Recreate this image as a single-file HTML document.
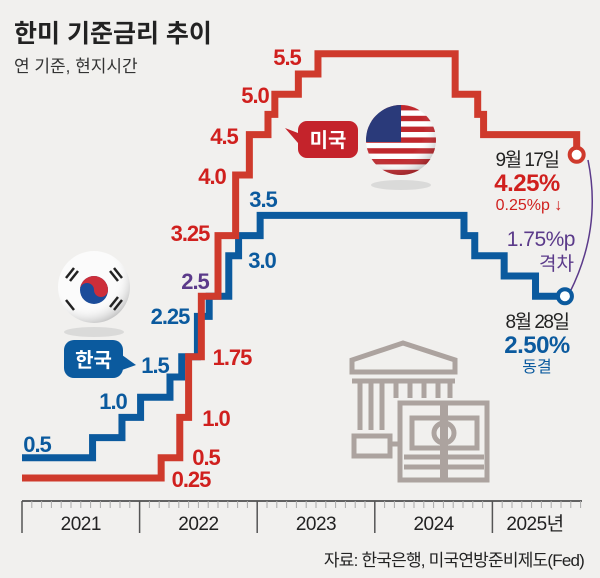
<!DOCTYPE html>
<html><head><meta charset="utf-8"><style>
body{margin:0;background:#f1f0ee;}
svg{display:block;font-family:"Liberation Sans","Noto Sans CJK KR",sans-serif;}
</style></head><body>
<svg id="chart" width="600" height="578" viewBox="0 0 600 578">
<rect width="600" height="578" fill="#f1f0ee"/>
<text x="14" y="42" font-size="25" font-weight="bold" fill="#222">한미 기준금리 추이</text>
<text x="14" y="72" font-size="17" fill="#333">연 기준, 현지시간</text>
<g id="axis"></g>
<g fill="none" stroke="#aca39f" stroke-width="5">
<path d="M352,372 L352,360 L403,343 L455,360 L455,372 Z"/>
<line x1="352" y1="381" x2="455" y2="381"/>
<line x1="360" y1="383" x2="360" y2="430"/><line x1="371" y1="383" x2="371" y2="430"/><line x1="382" y1="383" x2="382" y2="430"/>
<line x1="396" y1="383" x2="396" y2="398"/><line x1="410" y1="383" x2="410" y2="398"/><line x1="424" y1="383" x2="424" y2="398"/><line x1="438" y1="383" x2="438" y2="398"/><line x1="450" y1="383" x2="450" y2="398"/>
<rect x="354" y="436" width="36" height="20"/><line x1="390" y1="444" x2="398" y2="444"/>
<rect x="400" y="403" width="87" height="77"/>
<path d="M412,418 h65 v30 h-65 z"/><circle cx="444" cy="433" r="10"/>
<line x1="404" y1="457" x2="484" y2="457"/><line x1="404" y1="467" x2="484" y2="467"/>
<line x1="444" y1="403" x2="444" y2="480" stroke-width="8"/>
</g>
<path d="M588,160 Q602,228 570,292" fill="none" stroke="#5b3a8a" stroke-width="1.5"/>
<g id="series"></g>
<g id="labels"></g>
<g>
<defs><clipPath id="usc"><circle cx="401" cy="140" r="35"/></clipPath>
<radialGradient id="shade" cx="0.4" cy="0.35" r="0.7"><stop offset="0.6" stop-color="#fff" stop-opacity="0"/><stop offset="1" stop-color="#000" stop-opacity="0.25"/></radialGradient></defs>
<ellipse cx="401" cy="185" rx="30" ry="5" fill="#ccc" opacity="0.6"/>
<g clip-path="url(#usc)">
<rect x="366" y="105" width="70" height="70" fill="#fff"/>
<g fill="#c0282d"><rect x="366" y="105" width="70" height="5.4"/><rect x="366" y="115.8" width="70" height="5.4"/><rect x="366" y="126.6" width="70" height="5.4"/><rect x="366" y="137.4" width="70" height="5.4"/><rect x="366" y="148.2" width="70" height="5.4"/><rect x="366" y="159" width="70" height="5.4"/><rect x="366" y="169.8" width="70" height="5.4"/></g>
<rect x="366" y="105" width="35" height="37" fill="#2a3a7a"/>
<circle cx="401" cy="140" r="35" fill="url(#shade)"/>
</g></g>
<g>
<ellipse cx="94" cy="332" rx="30" ry="5" fill="#ccc" opacity="0.6"/>
<circle cx="94" cy="287" r="36" fill="#fbfbfb"/>
<circle cx="94" cy="287" r="36" fill="url(#shade)"/>
<circle cx="94" cy="290" r="14" fill="#1b4c9a"/>
<path d="M80,290 A14,14 0 0 1 108,290 A7,7 0 0 1 94,290 A7,7 0 0 0 80,290Z" fill="#cd2e3a"/>
<g stroke="#222" stroke-width="2.5"><line x1="66" y1="278" x2="74" y2="268"/><line x1="70" y1="281" x2="78" y2="271"/><line x1="114" y1="268" x2="122" y2="278"/><line x1="110" y1="271" x2="118" y2="281"/><line x1="66" y1="300" x2="74" y2="310"/><line x1="114" y1="310" x2="122" y2="300"/><line x1="110" y1="307" x2="118" y2="297"/></g>
</g>
<g>
<path d="M298,133 L285,128 L298,143 Z" fill="#c4232b"/>
<rect x="298" y="121" width="60" height="37" rx="9" fill="#c4232b"/>
<text x="328" y="147" font-size="20" font-weight="bold" fill="#fff" text-anchor="middle">미국</text>
</g>
<g>
<path d="M122,355 L136,365 L122,370 Z" fill="#0b5a9e"/>
<rect x="64" y="340" width="59" height="38" rx="10" fill="#0b5a9e"/>
<text x="93.5" y="367" font-size="20" font-weight="bold" fill="#fff" text-anchor="middle">한국</text>
</g>
<g text-anchor="middle">
<text x="527" y="166" font-size="19" fill="#222" letter-spacing="-1.5">9월 17일</text>
<text x="527" y="191" font-size="24" font-weight="bold" fill="#d0201e" letter-spacing="-0.5">4.25%</text>
<text x="529" y="210" font-size="16" fill="#d0201e">0.25%p ↓</text>
</g>
<g text-anchor="end">
<text x="575" y="246" font-size="21" fill="#5b3a8a" letter-spacing="-0.5">1.75%p</text>
<text x="574" y="270" font-size="19" fill="#5b3a8a">격차</text>
</g>
<g text-anchor="middle">
<text x="537" y="328" font-size="19" fill="#222" letter-spacing="-1.5">8월 28일</text>
<text x="537" y="353" font-size="24" font-weight="bold" fill="#0b5a9e" letter-spacing="-0.5">2.50%</text>
<text x="537" y="372" font-size="16" fill="#0b5a9e">동결</text>
</g>
<text x="584" y="566" font-size="17" fill="#222" text-anchor="end" letter-spacing="-0.8">자료: 한국은행, 미국연방준비제도(Fed)</text>
</svg>
<script>
// months since Jan 2021 and rate values
const usMonths = [0, 14.2, 16.1, 17.0, 18.3, 20.0, 21.8, 23.2, 25.1, 25.8, 28.2, 30.2, 44.2, 46.5, 47.1, 56.6];
const usRates  = [0.25, 0.5, 1.0, 1.75, 2.5, 3.25, 4.0, 4.5, 4.75, 5.0, 5.25, 5.5, 5.0, 4.75, 4.5, 4.25];
const usEnd = 56.6;
const krMonths = [0, 7.2, 10.2, 12.1, 15.1, 16.3, 17.9, 19.1, 21.1, 22.1, 24.3, 45.1, 46.2, 49.2, 52.4];
const krRates  = [0.5, 0.75, 1.0, 1.25, 1.5, 1.75, 2.25, 2.5, 3.0, 3.25, 3.5, 3.25, 3.0, 2.75, 2.5];
const krEnd = 55.4;
const yearLabels = ["2021", "2022", "2023", "2024", "2025년"];
const usLabelVals = ["5.5", "5.0", "4.5", "4.0", "3.25", "1.75", "1.0", "0.5", "0.25"];
const krLabelVals = ["3.5", "3.0", "2.25", "1.5", "1.0", "0.5"];

const NS = "http://www.w3.org/2000/svg";
const x = m => 22 + m * 9.8;
const y = v => 498.2 - 80.8 * v;
function mk(tag, attrs, parent){const e=document.createElementNS(NS,tag);for(const k in attrs)e.setAttribute(k,attrs[k]);parent.appendChild(e);return e;}

const axis = document.getElementById('axis');
mk('line',{x1:22,y1:501,x2:582,y2:501,stroke:'#333','stroke-width':1.5},axis);
for(let m=0;m<=57;m++){
  const t=mk('line',{x1:x(m),y1:501,x2:x(m),y2:m%12===0?533:508,stroke:m%12===0?'#555':'#aaa','stroke-width':m%12===0?1.5:1},axis);
  
  
}
yearLabels.forEach((lab,i)=>{
  const cx = i<4 ? x(i*12+6) : 535;
  const t=mk('text',{x:cx,y:530,'font-size':19,fill:'#222','text-anchor':'middle','letter-spacing':'-0.5'},axis);
  t.textContent=lab;
  
  
});

function stepPath(ms, vs, end){
  let d='M'+x(ms[0])+','+y(vs[0]);
  for(let i=1;i<ms.length;i++){ d+=' H'+x(ms[i])+' V'+y(vs[i]); }
  d+=' H'+x(end);
  return d;
}
const series=document.getElementById('series');
const kp=mk('path',{d:stepPath(krMonths,krRates,krEnd),fill:'none',stroke:'#0b5a9e','stroke-width':7,'stroke-linejoin':'miter'},series);


const up=mk('path',{d:stepPath(usMonths,usRates,usEnd),fill:'none',stroke:'#cf3a2c','stroke-width':7,'stroke-linejoin':'miter'},series);


const uc=mk('circle',{cx:x(usEnd),cy:y(usRates[usRates.length-1]),r:7,fill:'#fff',stroke:'#cf3a2c','stroke-width':4},series);


const kc=mk('circle',{cx:x(krEnd),cy:y(krRates[krRates.length-1]),r:7,fill:'#fff',stroke:'#0b5a9e','stroke-width':4},series);



const labels=document.getElementById('labels');
const usPos=[[287,65],[255,103],[224,144],[212,184],[190,241],[232,365],[216,426],[206,465],[191,487]];
usLabelVals.forEach((v,i)=>{
  const t=mk('text',{x:usPos[i][0],y:usPos[i][1],'font-size':22,'font-weight':'bold',fill:'#d0201e','text-anchor':'middle','letter-spacing':'-1'},labels);
  t.textContent=v;
  
  
});
const krPos=[[263,207],[262,268],[170,324],[155,373],[113,409],[37,452]];
krLabelVals.forEach((v,i)=>{
  const t=mk('text',{x:krPos[i][0],y:krPos[i][1],'font-size':22,'font-weight':'bold',fill:'#0b5a9e','text-anchor':'middle','letter-spacing':'-1'},labels);
  t.textContent=v;
  
  
});
const pl=mk('text',{x:195,y:289,'font-size':22,'font-weight':'bold',fill:'#5b3a8a','text-anchor':'middle','letter-spacing':'-1'},labels);
pl.textContent='2.5';


</script>
</body></html>
